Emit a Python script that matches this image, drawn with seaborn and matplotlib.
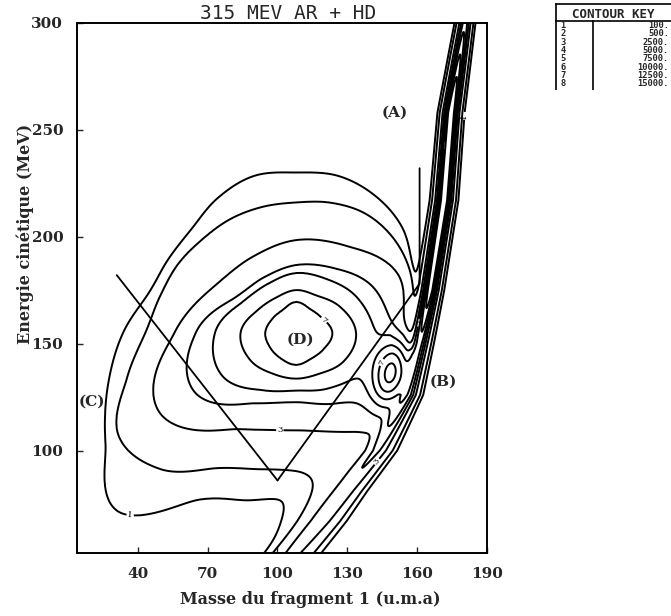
import numpy as np
import matplotlib
matplotlib.use("Agg")
import matplotlib.pyplot as plt
import seaborn as sns

# contour key (levels and their index numbers)
key_ids = [1, 2, 3, 4, 5, 6, 7, 8]
key_levels = [100., 500., 2500., 5000., 7500., 10000., 12500., 15000.]

# deep-inelastic bump (D): peak, centre, and radius of each contour (MeV units)
# read at equal angles, starting to the right and turning anticlockwise
d_peak = 13500.
d_cx, d_cy = 108, 155
ring7 = [17, 14, 13, 14.5, 12.5, 13, 14.5, 14, 14, 15, 14, 15]
ring6 = [28, 24, 20, 20, 19, 21, 26, 25, 22, 21.4, 22, 26]
ring5 = [36, 33, 29, 28, 26.5, 29, 38, 40, 31, 27, 30, 35]
ring4 = [44, 42, 35, 31.7, 30, 33, 47, 55, 38, 32.4, 38, 48]
ring3 = [50, 55, 47, 43.4, 41, 44, 57, 74, 52, 45.6, 52, 66]
ring2 = [55, 57, 61, 63.6, 64.5, 63, 61, 61, 61.5, 62, 64, 66,
         70.6, 82, 96, 90, 73, 66, 64.3, 68, 72, 78, 80, 65]
ring1 = [62, 61, 63, 70, 74, 76, 75, 76, 73, 69, 69, 71.5,
         81, 91, 103, 118, 90, 81, 76, 78, 85, 95, 90, 75]

# extra peaks: (B) and the low-energy shoulder along the ridge
comp_x = [149, 123]
comp_y = [136, 70]
comp_amp = [11000, 1200]
comp_sx = [5.5, 26]
comp_sy = [11, 8]
comp_rot = [-10, 65]

# elastic ridge (A) read along its crest
ridge_y = [40, 52, 67, 81, 100, 126, 150, 175, 217, 258, 300]
ridge_x = [101, 107, 119, 129, 143, 156, 161, 165.5, 171.5, 174.5, 180.5]
ridge_amp = [2500, 3000, 3500, 4000, 5000, 8000, 11000, 17000, 19000, 19000, 9000]
ridge_w = [4.5, 4.5, 4, 3.5, 3, 2.2, 2, 1.9, 1.9, 1.8, 1.5]

# drawn guide lines
v_left_x = [31, 100]
v_left_y = [182, 86]
v_right_x = [100, 161, 161]
v_right_y = [86, 178, 232]

# region labels
region_names = ["(A)", "(B)", "(C)", "(D)"]
region_x = [150.5, 171, 20.5, 110]
region_y = [258, 132, 123, 152]

xt = [40, 70, 100, 130, 160, 190]
yt = [100, 150, 200, 250, 300]

sns.set_style("ticks")
plt.rcParams['font.family'] = ['DejaVu Serif']


def ring_radius(theta, vals):
    # periodic Catmull-Rom through the readings
    vals = np.asarray(vals, dtype=float)
    n = len(vals)
    s = theta / (360.0 / n)
    i0 = np.floor(s).astype(int)
    t = s - i0
    p0, p1 = vals[(i0 - 1) % n], vals[i0 % n]
    p2, p3 = vals[(i0 + 1) % n], vals[(i0 + 2) % n]
    return 0.5 * (2 * p1 + (p2 - p0) * t + (2 * p0 - 5 * p1 + 4 * p2 - p3) * t ** 2
                  + (3 * p1 - p0 - 3 * p2 + p3) * t ** 3)


gx = np.arange(14, 190.01, 0.25)
gy = np.arange(40, 300.01, 0.25)
X, Y = np.meshgrid(gx, gy)

u = (X - d_cx) * 1.09
v = Y - d_cy
theta = np.degrees(np.arctan2(v, u)) % 360
dist = np.hypot(u, v)

radii = [np.zeros_like(X)]
for ring in [ring7, ring6, ring5, ring4, ring3, ring2, ring1]:
    r = ring_radius(theta, ring)
    radii.append(np.maximum(r, radii[-1] + 0.5))
radii.append(radii[-1] + 15)
logs = np.log([d_peak] + key_levels[6::-1] + [10.])

logZ = logs[-1] - (dist - radii[-1]) * 0.15
for k in range(len(radii) - 2, -1, -1):
    inside = dist < radii[k + 1]
    frac = (dist - radii[k]) / (radii[k + 1] - radii[k])
    logZ = np.where(inside, logs[k] + frac * (logs[k + 1] - logs[k]), logZ)
Z = np.exp(logZ)

for cx, cy, a, sx, sy, rt in zip(comp_x, comp_y, comp_amp, comp_sx, comp_sy, comp_rot):
    t = np.deg2rad(rt)
    pu = (X - cx) * np.cos(t) + (Y - cy) * np.sin(t)
    pv = -(X - cx) * np.sin(t) + (Y - cy) * np.cos(t)
    Z += a * np.exp(-0.5 * ((pu / sx) ** 2 + (pv / sy) ** 2))

xr = np.interp(Y, ridge_y, ridge_x)
Z = Z / (1 + np.exp((X - xr + 1.0) / 1.2))
Z += np.interp(Y, ridge_y, ridge_amp) * np.exp(-0.5 * ((X - xr) / np.interp(Y, ridge_y, ridge_w)) ** 2)

fig = plt.figure(figsize=(6.71, 6.16), dpi=100)
ax = fig.add_axes([0.115, 0.102, 0.611, 0.861])

cs = ax.contour(X, Y, Z, levels=key_levels, colors="black", linewidths=1.4)
fmt = {lv: str(i) for lv, i in zip(key_levels, key_ids)}
ax.clabel(cs, levels=[100., 2500., 7500., 12500.], fmt=fmt, fontsize=6, inline=True, inline_spacing=1)

ax.plot(v_left_x, v_left_y, color="black", lw=1.3)
ax.plot(v_right_x, v_right_y, color="black", lw=1.3)

for name, x, y in zip(region_names, region_x, region_y):
    ax.text(x, y, name, fontsize=11, fontweight="bold", ha="center", va="center")

ax.set_xlim(14, 190)
ax.set_ylim(52, 300)
ax.set_xticks(xt)
ax.set_yticks(yt)
ax.tick_params(direction="in", length=4, width=1, labelsize=11, pad=10)
for lab in ax.get_xticklabels() + ax.get_yticklabels():
    lab.set_fontweight("bold")
for s in ax.spines.values():
    s.set_linewidth(1.4)
    s.set_color("black")

fig.text(0.038, 0.62, "Energie cinétique (MeV)", rotation=90, fontsize=11.5,
         fontweight="bold", ha="center", va="center")
fig.text(0.462, 0.026, "Masse du fragment 1 (u.m.a)", fontsize=11.5,
         fontweight="bold", ha="center", va="center")
fig.text(0.43, 0.978, "315 MEV AR + HD", fontsize=14, family="DejaVu Sans Mono",
         ha="center", va="center")

# contour key box
kx = fig.add_axes([555 / 671, (616 - 90) / 616, 116 / 671, 87 / 616])
kx.set_xlim(0, 116)
kx.set_ylim(90, 3)
kx.axis("off")
kx.plot([0, 116], [4, 4], color="black", lw=1.2)
kx.plot([1, 1], [4, 90], color="black", lw=1.2)
kx.plot([0, 116], [21, 21], color="black", lw=1.2)
kx.plot([38, 38], [21, 90], color="black", lw=1.2)
kx.text(58, 14, "CONTOUR KEY", fontsize=9, family="DejaVu Sans Mono",
        fontweight="bold", ha="center", va="center")
for i, lv in zip(key_ids, key_levels):
    yy = 25.5 + (i - 1) * 8.3
    kx.text(8, yy, str(i), fontsize=6.3, family="DejaVu Sans Mono",
            fontweight="bold", ha="center", va="center")
    kx.text(114, yy, f"{lv:.0f}.", fontsize=6.3, family="DejaVu Sans Mono",
            fontweight="bold", ha="right", va="center")

fig.savefig("out.png", dpi=100)
